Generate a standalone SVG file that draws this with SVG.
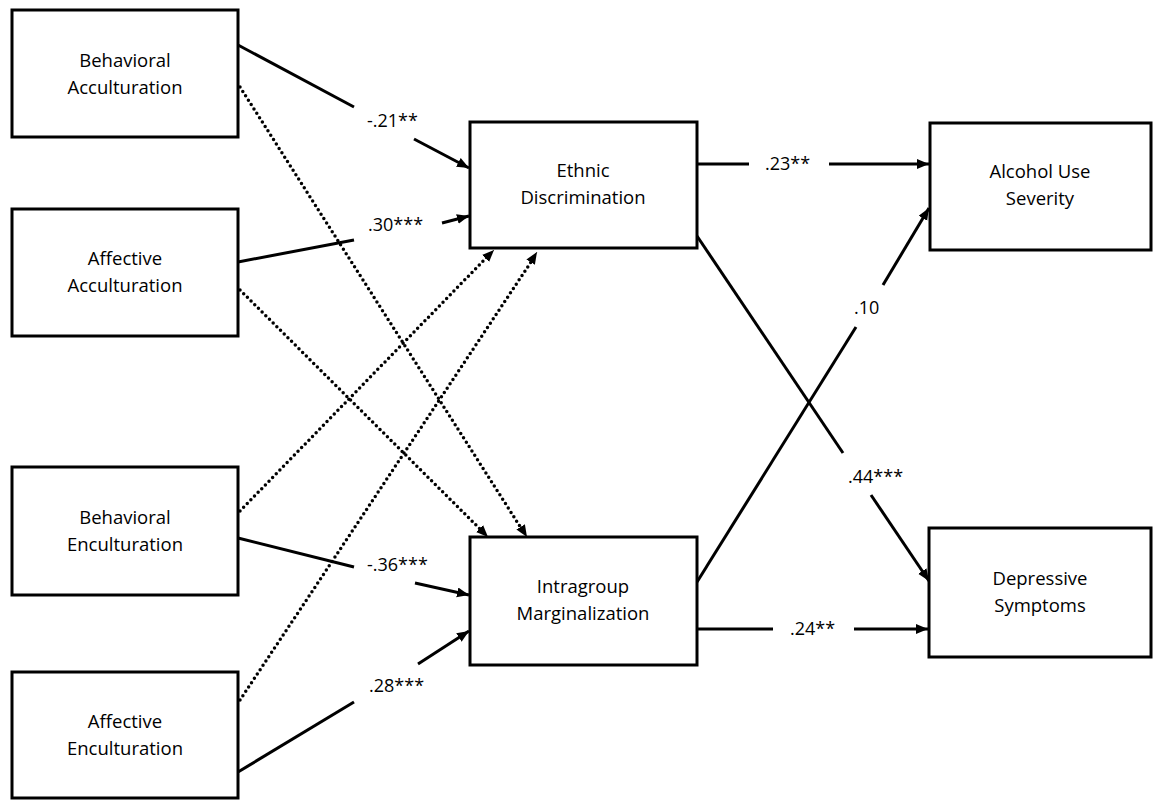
<svg xmlns="http://www.w3.org/2000/svg" width="1154" height="800" viewBox="0 0 1154 800">
<defs>
<marker id="ah" markerUnits="userSpaceOnUse" markerWidth="14" markerHeight="12" refX="12" refY="5" orient="auto">
<path d="M0,0 L12,5 L0,10 z" fill="#000"/>
</marker>
<style>
.box{fill:#fff;stroke:#000;stroke-width:3}
.t{font-family:"Open Sans","Liberation Sans",sans-serif;font-size:18.5px;fill:#000;text-anchor:middle}
.l{font-family:"Open Sans","Liberation Sans",sans-serif;font-size:18px;fill:#000}
.s{stroke:#000;stroke-width:3;fill:none}
.h{stroke:#000;stroke-width:0.5;fill:none}
.d{stroke:#000;stroke-width:3.5;fill:none;stroke-dasharray:0 5.2;stroke-linecap:round}
</style>
</defs>
<rect width="1154" height="800" fill="#fff"/>
<g id="connectors">
<line class="d" x1="240" y1="87" x2="521" y2="528"/>
<line class="d" x1="240" y1="290" x2="481" y2="530"/>
<line class="d" x1="240" y1="511" x2="487" y2="257"/>
<line class="d" x1="240" y1="700" x2="531" y2="262"/>
<path d="M522,529 L527,537" class="h" marker-end="url(#ah)"/>
<path d="M482,531 L488,537" class="h" marker-end="url(#ah)"/>
<path d="M488,256 L494,250" class="h" marker-end="url(#ah)"/>
<path d="M532,260 L537,252" class="h" marker-end="url(#ah)"/>

<line class="s" x1="238" y1="45" x2="354" y2="107"/>
<line class="s" x1="414" y1="139" x2="469" y2="168" marker-end="url(#ah)"/>
<line class="s" x1="238" y1="262" x2="354" y2="240"/>
<line class="s" x1="442" y1="223" x2="469" y2="216" marker-end="url(#ah)"/>
<line class="s" x1="238" y1="538" x2="354" y2="567"/>
<line class="s" x1="415" y1="583" x2="469" y2="595" marker-end="url(#ah)"/>
<line class="s" x1="238" y1="772" x2="354" y2="702"/>
<line class="s" x1="418" y1="664" x2="469" y2="631" marker-end="url(#ah)"/>

<line class="s" x1="697" y1="164" x2="749" y2="164"/>
<line class="s" x1="829" y1="164" x2="929" y2="164" marker-end="url(#ah)"/>
<line class="s" x1="697" y1="236" x2="843" y2="453"/>
<line class="s" x1="871" y1="495" x2="929" y2="581" marker-end="url(#ah)"/>
<line class="s" x1="697" y1="582" x2="856" y2="327"/>
<line class="s" x1="883" y1="285" x2="929" y2="208" marker-end="url(#ah)"/>
<line class="s" x1="697" y1="629" x2="773" y2="629"/>
<line class="s" x1="854" y1="629" x2="928" y2="629" marker-end="url(#ah)"/>
</g>
<g id="labels">
<text class="l" x="367" y="127">-.21**</text>
<text class="l" x="368" y="231">.30***</text>
<text class="l" x="367" y="571">-.36***</text>
<text class="l" x="369" y="692">.28***</text>
<text class="l" x="765" y="170">.23**</text>
<text class="l" x="848" y="483">.44***</text>
<text class="l" x="854" y="314">.10</text>
<text class="l" x="790" y="635">.24**</text>
</g>
<g id="behavioral-acculturation">
<rect class="box" x="12" y="10" width="226" height="127"/>
<text class="t" x="125" y="67">Behavioral</text>
<text class="t" x="125" y="94">Acculturation</text>
</g>
<g id="affective-acculturation">
<rect class="box" x="12" y="209" width="226" height="127"/>
<text class="t" x="125" y="265">Affective</text>
<text class="t" x="125" y="292">Acculturation</text>
</g>
<g id="behavioral-enculturation">
<rect class="box" x="12" y="467" width="226" height="128"/>
<text class="t" x="125" y="524">Behavioral</text>
<text class="t" x="125" y="551">Enculturation</text>
</g>
<g id="affective-enculturation">
<rect class="box" x="12" y="672" width="226" height="126"/>
<text class="t" x="125" y="728">Affective</text>
<text class="t" x="125" y="755">Enculturation</text>
</g>
<g id="ethnic-discrimination">
<rect class="box" x="470" y="122" width="227" height="126"/>
<text class="t" x="583" y="177">Ethnic</text>
<text class="t" x="583" y="204">Discrimination</text>
</g>
<g id="intragroup-marginalization">
<rect class="box" x="470" y="537" width="227" height="128"/>
<text class="t" x="583" y="593">Intragroup</text>
<text class="t" x="583" y="620">Marginalization</text>
</g>
<g id="alcohol-use-severity">
<rect class="box" x="930" y="123" width="221" height="127"/>
<text class="t" x="1040" y="178">Alcohol Use</text>
<text class="t" x="1040" y="205">Severity</text>
</g>
<g id="depressive-symptoms">
<rect class="box" x="929" y="528" width="222" height="129"/>
<text class="t" x="1040" y="585">Depressive</text>
<text class="t" x="1040" y="612">Symptoms</text>
</g>
</svg>
